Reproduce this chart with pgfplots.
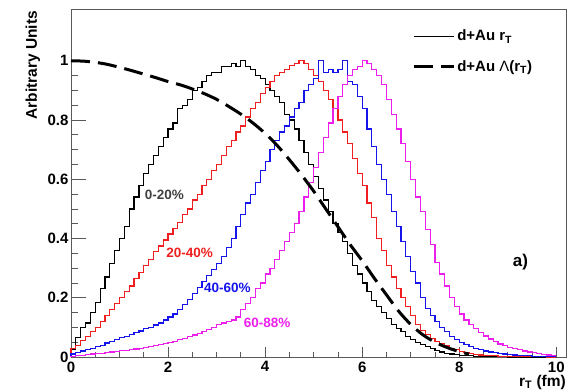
\documentclass[border=0pt]{standalone}
\usepackage{fontspec}
\setmainfont{Liberation Sans}
\usepackage{pgfplots}
\usepackage{pgfplotstable}
\pgfplotsset{compat=1.18}

\definecolor{rootred}{RGB}{240,30,30}
\definecolor{rootblue}{RGB}{20,20,235}
\definecolor{rootmag}{RGB}{235,30,235}

% r_T distributions in 0.1 fm bins (low bin edge), four centrality classes
\pgfplotstableread{
r    black red   blue  mag
0.0  0     0     0     0
0.0  0.025 0.030 0.010 0.003
0.1  0.065 0.040 0.015 0.005
0.2  0.100 0.055 0.020 0.006
0.3  0.115 0.070 0.025 0.008
0.4  0.150 0.085 0.030 0.010
0.5  0.185 0.100 0.035 0.012
0.6  0.230 0.120 0.040 0.013
0.7  0.270 0.140 0.047 0.015
0.8  0.315 0.160 0.052 0.017
0.9  0.360 0.180 0.058 0.019
1.0  0.400 0.200 0.065 0.021
1.1  0.440 0.220 0.070 0.023
1.2  0.500 0.240 0.075 0.025
1.3  0.540 0.265 0.082 0.027
1.4  0.580 0.285 0.088 0.030
1.5  0.620 0.310 0.095 0.032
1.6  0.650 0.330 0.100 0.035
1.7  0.680 0.355 0.108 0.038
1.8  0.710 0.375 0.115 0.041
1.9  0.740 0.395 0.125 0.045
2.0  0.770 0.415 0.135 0.049
2.1  0.790 0.435 0.145 0.053
2.2  0.840 0.455 0.160 0.058
2.3  0.850 0.480 0.178 0.063
2.4  0.870 0.500 0.195 0.068
2.5  0.900 0.530 0.215 0.074
2.6  0.910 0.550 0.235 0.080
2.7  0.930 0.580 0.255 0.087
2.8  0.950 0.600 0.275 0.094
2.9  0.960 0.630 0.295 0.100
3.0  0.960 0.650 0.315 0.110
3.1  0.980 0.680 0.340 0.115
3.2  0.980 0.710 0.370 0.120
3.3  0.990 0.730 0.400 0.125
3.4  0.980 0.760 0.440 0.135
3.5  1.000 0.780 0.480 0.160
3.6  0.980 0.810 0.520 0.180
3.7  0.970 0.840 0.550 0.200
3.8  0.950 0.860 0.590 0.230
3.9  0.940 0.890 0.630 0.250
4.0  0.920 0.910 0.660 0.280
4.1  0.900 0.930 0.700 0.300
4.2  0.880 0.950 0.730 0.330
4.3  0.860 0.960 0.760 0.360
4.4  0.820 0.970 0.780 0.390
4.5  0.800 0.985 0.810 0.420
4.6  0.770 0.990 0.840 0.450
4.7  0.730 1.000 0.860 0.490
4.8  0.690 0.990 0.900 0.540
4.9  0.650 0.970 0.920 0.590
5.0  0.610 0.950 0.940 0.640
5.1  0.570 0.930 1.000 0.690
5.2  0.530 0.900 0.960 0.740
5.3  0.490 0.870 0.970 0.790
5.4  0.450 0.840 0.960 0.840
5.5  0.420 0.800 0.970 0.880
5.6  0.390 0.760 1.000 0.920
5.7  0.350 0.720 0.930 0.950
5.8  0.310 0.670 0.920 0.970
5.9  0.280 0.620 0.880 0.980
6.0  0.250 0.580 0.840 1.000
6.1  0.220 0.520 0.770 0.990
6.2  0.190 0.470 0.710 0.970
6.3  0.170 0.400 0.650 0.950
6.4  0.150 0.360 0.600 0.920
6.5  0.130 0.310 0.550 0.870
6.6  0.110 0.270 0.490 0.820
6.7  0.095 0.230 0.440 0.770
6.8  0.085 0.200 0.390 0.720
6.9  0.070 0.170 0.340 0.660
7.0  0.060 0.140 0.290 0.600
7.1  0.050 0.110 0.250 0.540
7.2  0.042 0.090 0.200 0.490
7.3  0.035 0.075 0.165 0.430
7.4  0.028 0.062 0.140 0.380
7.5  0.022 0.052 0.120 0.320
7.6  0.017 0.045 0.100 0.280
7.7  0.013 0.037 0.085 0.240
7.8  0.010 0.030 0.070 0.200
7.9  0.008 0.024 0.060 0.170
8.0  0.006 0.019 0.050 0.145
8.1  0.005 0.015 0.042 0.125
8.2  0.004 0.012 0.035 0.110
8.3  0.003 0.009 0.029 0.095
8.4  0.002 0.007 0.025 0.082
8.5  0.002 0.006 0.020 0.071
8.6  0.001 0.005 0.017 0.061
8.7  0.001 0.004 0.014 0.052
8.8  0.001 0.003 0.012 0.044
8.9  0.001 0.003 0.010 0.038
9.0  0.000 0.002 0.008 0.033
9.1  0.000 0.002 0.007 0.028
9.2  0.000 0.002 0.006 0.024
9.3  0.000 0.001 0.005 0.020
9.4  0.000 0.001 0.004 0.017
9.5  0.000 0.001 0.003 0.014
9.6  0.000 0.001 0.003 0.011
9.7  0.000 0.001 0.002 0.009
9.8  0.000 0.000 0.002 0.007
9.9  0.000 0.000 0.001 0.005
10.0 0.000 0.000 0.001 0.005
}\rtdist

% overlap function Lambda(r_T)
\pgfplotstableread{
r    lam
0.00 1.000
0.25 0.999
0.50 0.995
0.75 0.988
1.00 0.978
1.25 0.967
1.50 0.955
1.75 0.943
2.00 0.930
2.25 0.919
2.50 0.905
2.75 0.889
3.00 0.870
3.25 0.846
3.50 0.820
3.75 0.790
4.00 0.755
4.25 0.714
4.50 0.666
4.75 0.615
5.00 0.560
5.25 0.500
5.50 0.440
5.75 0.380
6.00 0.325
6.25 0.266
6.50 0.210
6.75 0.155
7.00 0.110
7.25 0.075
7.50 0.050
7.75 0.032
8.00 0.018
8.20 0.010
}\lamtab

\begin{document}
\begin{tikzpicture}[x=1pt,y=1pt]
\path[use as bounding box] (-71,-34) rectangle (505,357);
\begin{axis}[
  at={(0,0)}, anchor=south west,
  scale only axis, width=495pt, height=348pt,
  xmin=0, xmax=10.2, ymin=0, ymax=1.175,
  axis line style={black!65, line width=0.9pt},
  xtick={0,2,4,6,8,10},
  ytick={0,0.2,0.4,0.6,0.8,1},
  yticklabels={0,0.2,0.4,0.6,0.8,1},
  minor x tick num=3, minor y tick num=3,
  tick align=inside, xtick pos=bottom, ytick pos=left,
  tick style={black!65, line width=0.8pt},
  xtick style={/pgfplots/major tick length=10pt, /pgfplots/minor tick length=5pt},
  ytick style={/pgfplots/major tick length=15pt, /pgfplots/minor tick length=7.5pt},
  /pgf/number format/assume math mode=true,
  ticklabel style={font=\bfseries\fontsize{15}{15}\selectfont},
  xticklabel style={yshift=-1pt},
  yticklabel style={xshift=1pt},
  ylabel={\bfseries Arbitrary Units},
  ylabel style={font=\fontsize{15.5}{15.5}\selectfont, at={(axis description cs:-0.077,0.995)}, anchor=east, inner sep=0pt},
  xlabel={\bfseries r\textsubscript{T} (fm)},
  xlabel style={font=\fontsize{15.5}{15.5}\selectfont, at={(axis description cs:1,0)}, anchor=north east, yshift=-18pt, inner sep=0pt},
  legend style={at={(rel axis cs:0.689,0.946)}, anchor=north west, draw=none, fill=none,
    font=\bfseries\fontsize{15}{15}\selectfont, row sep=14pt, inner sep=0pt,
    cells={anchor=west}},
  legend image code/.code={\draw[#1] (-8pt,0pt) -- (32pt,0pt);},
  clip=false,
]
\addplot[const plot mark left, black, line width=1.2pt] table[x=r, y=black] {\rtdist};
\addlegendentry{d+Au r\textsubscript{T}}
\addplot[const plot mark left, rootred, line width=1.2pt, forget plot] table[x=r, y=red] {\rtdist};
\addplot[const plot mark left, rootblue, line width=1.2pt, forget plot] table[x=r, y=blue] {\rtdist};
\addplot[const plot mark left, rootmag, line width=1.2pt, forget plot] table[x=r, y=mag] {\rtdist};
\addplot[black, line width=3pt, dash pattern=on 19pt off 8pt, smooth] table[x=r, y=lam] {\lamtab};
\addlegendentry{d+Au {\mdseries Λ}(r\textsubscript{T})}

\begin{scope}[every node/.style={font=\bfseries\fontsize{13.5}{13.5}\selectfont, anchor=west, inner sep=0pt}]
\node[text=black!75] at (axis cs:1.52,0.546) {0-20\%};
\node[text=rootred] at (axis cs:1.96,0.353) {20-40\%};
\node[text=rootblue] at (axis cs:2.74,0.232) {40-60\%};
\node[text=rootmag] at (axis cs:3.56,0.115) {60-88\%};
\end{scope}
\node[font=\bfseries\fontsize{17}{17}\selectfont] at (axis cs:9.26,0.32) {a)};
\end{axis}
\end{tikzpicture}
\end{document}
